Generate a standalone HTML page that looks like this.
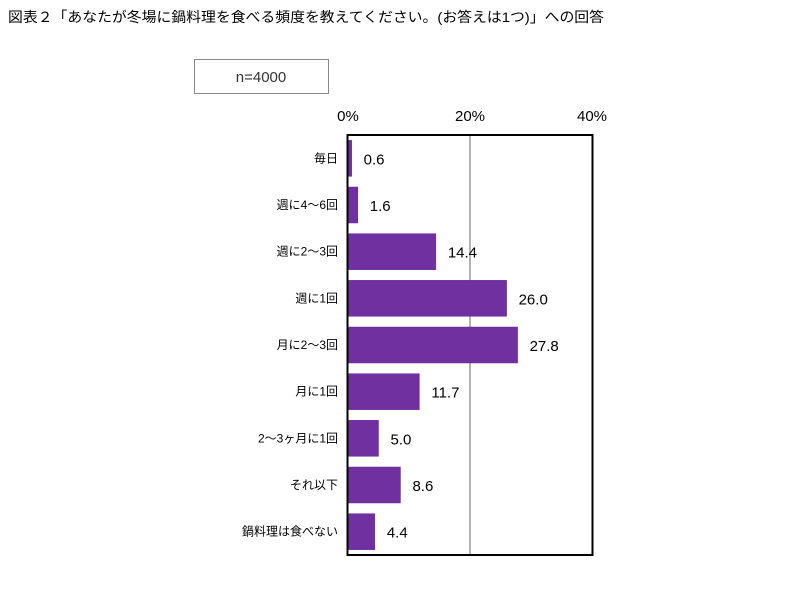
<!DOCTYPE html>
<html><head><meta charset="utf-8"><style>
body{margin:0;background:#fff;width:810px;height:608px;overflow:hidden;font-family:"Liberation Sans","Noto Sans CJK JP",sans-serif;}
</style></head><body>
<svg width="810" height="608" font-family="Liberation Sans, Noto Sans CJK JP, sans-serif">
<text x="8" y="22" font-size="14" fill="#000" textLength="596" lengthAdjust="spacingAndGlyphs">図表２「あなたが冬場に鍋料理を食べる頻度を教えてください。(お答えは1つ)」への回答</text>
<rect x="194.5" y="59.5" width="134" height="34" fill="#fff" stroke="#888"/>
<text x="261" y="82" font-size="15" text-anchor="middle" fill="#333">n=4000</text>
<g id="plot"></g>
</svg>
<script>
const categories=["毎日","週に4～6回","週に2～3回","週に1回","月に2～3回","月に1回","2～3ヶ月に1回","それ以下","鍋料理は食べない"];
const values=[0.6,1.6,14.4,26.0,27.8,11.7,5.0,8.6,4.4];
const valueLabels=["0.6","1.6","14.4","26.0","27.8","11.7","5.0","8.6","4.4"];
const tickValues=[0,20,40];
const tickLabels=["0%","20%","40%"];
const NS="http://www.w3.org/2000/svg";
const g=document.getElementById('plot');
const L=348,R=592,T=135,B=555;
const x=v=>L+(v/40)*(R-L);
const pitch=(B-T)/categories.length;
const yc=i=>T+pitch*(i+0.5);
function mk(t,a){const e=document.createElementNS(NS,t);for(const k in a)e.setAttribute(k,a[k]);g.appendChild(e);return e;}
tickValues.forEach((v,i)=>{
 if(v>0&&v<40){const l=mk('line',{x1:x(v),x2:x(v),y1:T,y2:B,stroke:'#999','stroke-width':1.5});
 
 }
 const t=mk('text',{x:x(v),y:121,'font-size':15,'text-anchor':'middle',fill:'#000'});t.textContent=tickLabels[i];
 
 
});
categories.forEach((c,i)=>{
 const b=mk('rect',{x:L,y:yc(i)-18,width:x(values[i])-L,height:36,fill:'#7030a0',stroke:'#6a2a9a','stroke-width':0.5});
 
 
 const v=mk('text',{x:x(values[i])+12,y:yc(i)+6,'font-size':15,fill:'#000'});v.textContent=valueLabels[i];
 
 
 const cl=mk('text',{x:L-10,y:yc(i)+4,'font-size':12,'text-anchor':'end',fill:'#000'});cl.textContent=c;
 
 
});
const f=mk('rect',{x:L-0.5,y:T,width:R-L+1,height:B-T,fill:'none',stroke:'#000','stroke-width':2});


</script>
</body></html>
